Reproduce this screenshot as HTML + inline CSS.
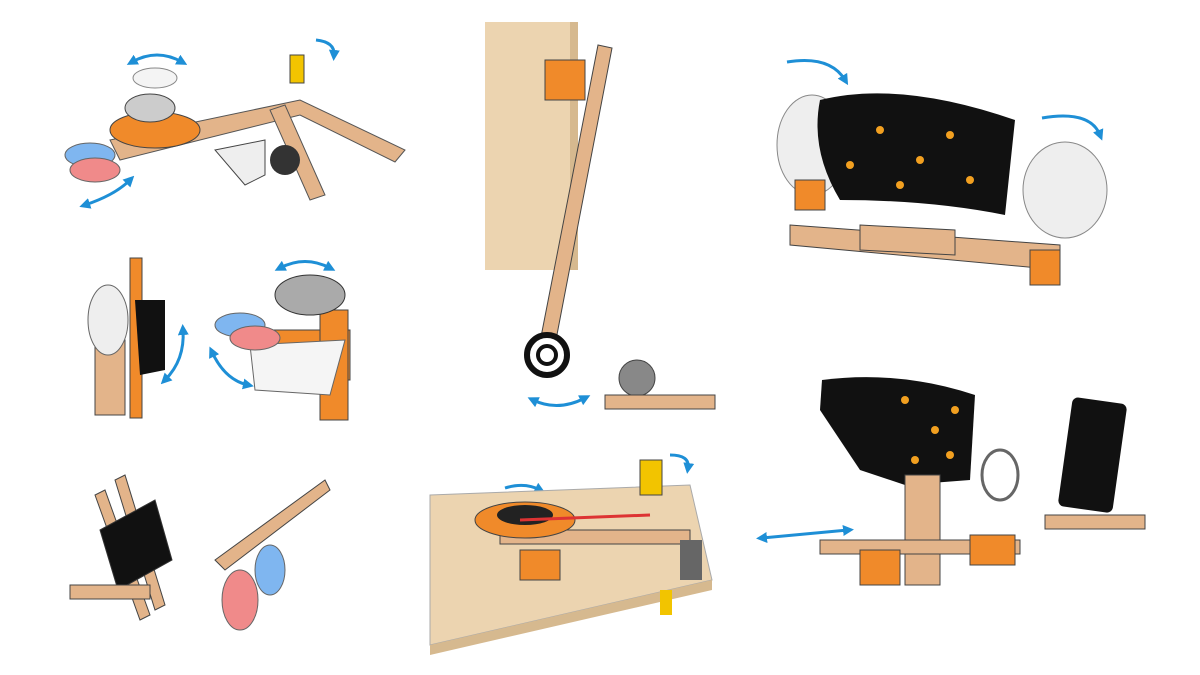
<!DOCTYPE html>
<html><head><meta charset="utf-8"><style>html,body{margin:0;padding:0;background:#fff}svg{display:block}</style></head>
<body>
<svg width="1200" height="675" viewBox="0 0 1200 675" xmlns="http://www.w3.org/2000/svg">
<defs>
<marker id="ah" markerUnits="userSpaceOnUse" markerWidth="11" markerHeight="11" refX="5" refY="5.5" orient="auto-start-reverse"><path d="M0,0L11,5.5L0,11z" fill="#1e8fd6"/></marker>
</defs>
<g stroke="#1e8fd6" stroke-width="3" fill="none" marker-end="url(#ah)" marker-start="url(#ah)">
<path d="M132,62 Q157,48 182,62"/>
<path d="M85,205 Q115,195 130,180"/>
<path d="M280,268 Q305,255 330,268"/>
<path d="M212,352 Q225,380 248,385"/>
<path d="M165,380 Q185,360 183,330"/>
<path d="M533,400 Q558,412 585,398"/>
<path d="M762,538 L848,530"/>
</g>
<g stroke="#1e8fd6" stroke-width="3" fill="none" marker-end="url(#ah)">
<path d="M316,40 Q335,42 334,55"/>
<path d="M670,455 Q690,455 688,468"/>
<path d="M505,488 Q525,482 540,490"/>
<path d="M787,62 Q830,55 845,80"/>
<path d="M1042,118 Q1090,110 1100,135"/>
</g>
<!-- top-left -->
<path d="M110,140 L300,100 L405,150 L395,162 L300,115 L120,160z" fill="#e3b48a" stroke="#555"/>
<path d="M270,110 L310,200 L325,195 L285,105z" fill="#e3b48a" stroke="#555"/>
<ellipse cx="155" cy="130" rx="45" ry="18" fill="#f08a2a" stroke="#444"/>
<ellipse cx="150" cy="108" rx="25" ry="14" fill="#ccc" stroke="#444"/>
<ellipse cx="155" cy="78" rx="22" ry="10" fill="#f4f4f4" stroke="#888"/>
<ellipse cx="90" cy="155" rx="25" ry="12" fill="#7fb6f0" stroke="#666"/>
<ellipse cx="95" cy="170" rx="25" ry="12" fill="#f08a8a" stroke="#666"/>
<rect x="290" y="55" width="14" height="28" fill="#f2c400" stroke="#444"/>
<path d="M215,150 L265,140 L265,175 L245,185z" fill="#eee" stroke="#444"/>
<circle cx="285" cy="160" r="15" fill="#333"/>
<!-- mid-left -->
<rect x="130" y="258" width="12" height="160" fill="#f08a2a" stroke="#444"/>
<rect x="95" y="340" width="30" height="75" fill="#e3b48a" stroke="#444"/>
<ellipse cx="108" cy="320" rx="20" ry="35" fill="#eee" stroke="#666"/>
<path d="M135,300 L165,300 L165,370 L140,375z" fill="#111"/>
<rect x="255" y="330" width="95" height="50" fill="#f08a2a" stroke="#444"/>
<rect x="320" y="310" width="28" height="110" fill="#f08a2a" stroke="#444"/>
<path d="M250,345 L345,340 L330,395 L255,390z" fill="#f5f5f5" stroke="#666"/>
<ellipse cx="310" cy="295" rx="35" ry="20" fill="#aaa" stroke="#333"/>
<ellipse cx="240" cy="325" rx="25" ry="12" fill="#7fb6f0" stroke="#666"/>
<ellipse cx="255" cy="338" rx="25" ry="12" fill="#f08a8a" stroke="#666"/>
<!-- bottom-left -->
<path d="M95,495 L140,620 L150,615 L105,490z" fill="#e3b48a" stroke="#444"/>
<path d="M115,480 L155,610 L165,605 L125,475z" fill="#e3b48a" stroke="#444"/>
<path d="M100,530 L155,500 L172,560 L118,590z" fill="#111" stroke="#333"/>
<rect x="70" y="585" width="80" height="14" fill="#e3b48a" stroke="#444"/>
<path d="M215,560 L325,480 L330,490 L225,570z" fill="#e3b48a" stroke="#444"/>
<ellipse cx="240" cy="600" rx="18" ry="30" fill="#f08a8a" stroke="#666"/>
<ellipse cx="270" cy="570" rx="15" ry="25" fill="#7fb6f0" stroke="#666"/>
<!-- center door -->
<rect x="485" y="22" width="90" height="248" fill="#ecd4b0"/>
<rect x="570" y="22" width="8" height="248" fill="#d6b98f"/>
<rect x="545" y="60" width="40" height="40" fill="#f08a2a" stroke="#444"/>
<path d="M598,45 L612,48 L555,345 L540,342z" fill="#e3b48a" stroke="#444"/>
<circle cx="547" cy="355" r="20" fill="#fff" stroke="#111" stroke-width="6"/>
<circle cx="547" cy="355" r="9" fill="none" stroke="#111" stroke-width="4"/>
<circle cx="637" cy="378" r="18" fill="#888" stroke="#444"/>
<rect x="605" y="395" width="110" height="14" fill="#e3b48a" stroke="#444"/>
<!-- bottom center table -->
<path d="M430,495 L690,485 L712,580 L430,645z" fill="#ecd4b0" stroke="#aaa"/>
<path d="M430,645 L712,580 L712,590 L430,655z" fill="#d6b98f"/>
<rect x="500" y="530" width="190" height="14" fill="#e3b48a" stroke="#444"/>
<ellipse cx="525" cy="520" rx="50" ry="18" fill="#f08a2a" stroke="#444"/>
<ellipse cx="525" cy="515" rx="28" ry="10" fill="#222"/>
<rect x="640" y="460" width="22" height="35" fill="#f2c400" stroke="#444"/>
<rect x="520" y="550" width="40" height="30" fill="#f08a2a" stroke="#444"/>
<rect x="680" y="540" width="22" height="40" fill="#666"/>
<rect x="660" y="590" width="12" height="25" fill="#f2c400"/>
<line x1="520" y1="520" x2="650" y2="515" stroke="#d33" stroke-width="3"/>
<!-- top right -->
<path d="M790,225 L1060,245 L1060,270 L790,245z" fill="#e3b48a" stroke="#444"/>
<path d="M860,225 L955,230 L955,255 L860,250z" fill="#e3b48a" stroke="#444"/>
<ellipse cx="812" cy="145" rx="35" ry="50" fill="#eee" stroke="#888"/>
<ellipse cx="1065" cy="190" rx="42" ry="48" fill="#eee" stroke="#888"/>
<path d="M820,100 Q900,80 1015,120 L1005,215 Q930,200 840,200 Q810,150 820,100z" fill="#111"/>
<rect x="1030" y="250" width="30" height="35" fill="#f08a2a" stroke="#444"/>
<rect x="795" y="180" width="30" height="30" fill="#f08a2a" stroke="#444"/>
<g fill="#f2a020"><circle cx="880" cy="130" r="4"/><circle cx="920" cy="160" r="4"/><circle cx="950" cy="135" r="4"/><circle cx="900" cy="185" r="4"/><circle cx="970" cy="180" r="4"/><circle cx="850" cy="165" r="4"/></g>
<!-- bottom right -->
<path d="M822,380 Q900,370 975,395 L970,480 L905,485 L860,470 L820,410z" fill="#111"/>
<g fill="#f2a020"><circle cx="905" cy="400" r="4"/><circle cx="935" cy="430" r="4"/><circle cx="955" cy="410" r="4"/><circle cx="915" cy="460" r="4"/><circle cx="950" cy="455" r="4"/></g>
<rect x="905" y="475" width="35" height="110" fill="#e3b48a" stroke="#444"/>
<rect x="820" y="540" width="200" height="14" fill="#e3b48a" stroke="#444"/>
<rect x="860" y="550" width="40" height="35" fill="#f08a2a" stroke="#444"/>
<rect x="970" y="535" width="45" height="30" fill="#f08a2a" stroke="#444"/>
<ellipse cx="1000" cy="475" rx="18" ry="25" fill="#fff" stroke="#666" stroke-width="3"/>
<rect x="1065" y="400" width="55" height="110" rx="6" fill="#111" transform="rotate(8 1092 455)"/>
<rect x="1045" y="515" width="100" height="14" fill="#e3b48a" stroke="#444"/>
</svg>
</body></html>
